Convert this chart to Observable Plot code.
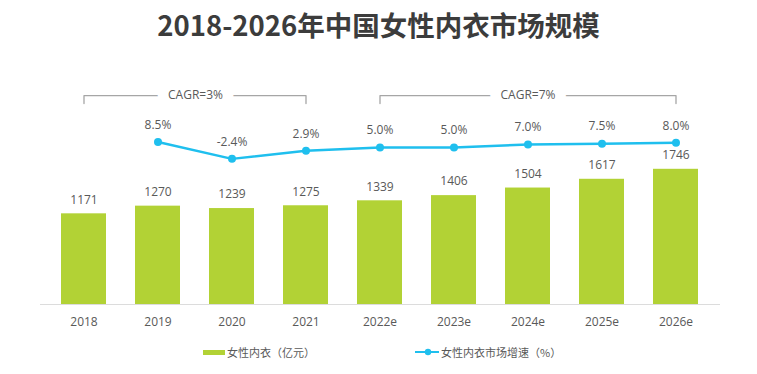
<!DOCTYPE html>
<html><head><meta charset="utf-8">
<script src="https://cdn.jsdelivr.net/npm/d3@7"></script>
<script src="https://cdn.jsdelivr.net/npm/@observablehq/plot@0.6"></script>
<style>
body{margin:0;background:#fff;font-family:"Open Sans","Noto Sans CJK SC",sans-serif;}
#wrap{position:relative;width:757px;height:374px;overflow:hidden;background:#fff;}
#title{height:50px;line-height:48px;text-align:center;font-family:"Noto Sans CJK SC",sans-serif;font-weight:700;font-size:27.5px;color:#3c3c3c;}
#chart{position:relative;width:757px;height:290px;}
#chart svg{position:absolute;left:0;top:0;}
#legend{position:relative;height:34px;font-size:11px;color:#595959;font-family:"Noto Sans CJK SC",sans-serif;}
.lg{position:absolute;top:5px;display:flex;align-items:center;height:14px;white-space:nowrap;}
</style></head>
<body>
<div id="wrap">
  <div id="title">2018-2026年中国女性内衣市场规模</div>
  <div id="chart"></div>
  <div id="legend"></div>
</div>
<script>
const years = ["2018","2019","2020","2021","2022e","2023e","2024e","2025e","2026e"];
const marketSize = [1171,1270,1239,1275,1339,1406,1504,1617,1746];
const growthYears = ["2019","2020","2021","2022e","2023e","2024e","2025e","2026e"];
const growthRate = [8.5,-2.4,2.9,5.0,5.0,7.0,7.5,8.0];
const cagrLabels = ["CAGR=3%","CAGR=7%"];
const cagrStart = ["2018","2022e"];
const cagrEnd = ["2021","2026e"];
const cagrCenter = ["2019","2024e"];
const legendLabels = ["女性内衣（亿元）","女性内衣市场增速（%）"];

const barColor = "#b2d235";
const lineColor = "#1fbfee";
const W = 757, H = 290, ML = 40, MR = 37, MB = 36;
const padIn = 0.387, padOut = 0.227;
const step = (W - ML - MR) / (years.length - padIn + 2 * padOut);

const sizeData = years.map((y, i) => ({year: y, value: marketSize[i]}));
const rateData = growthYears.map((y, i) => ({year: y, rate: growthRate[i]}));
const bracketTop = 38.7, bracketLow = 33.5;
const bracketData = [];
cagrLabels.forEach((lab, i) => {
  bracketData.push({g: i, year: cagrStart[i], v: bracketLow});
  bracketData.push({g: i, year: cagrStart[i], v: bracketTop});
  bracketData.push({g: i, year: cagrEnd[i], v: bracketTop});
  bracketData.push({g: i, year: cagrEnd[i], v: bracketLow});
});
const cagrText = cagrLabels.map((lab, i) => ({year: cagrCenter[i], v: bracketTop, label: lab, shift: i === 0 ? step / 2 : 0}));

const xOpts = {domain: years, type: "band", paddingInner: padIn, paddingOuter: padOut};
const font = {fontFamily: '"Open Sans","Noto Sans CJK SC",sans-serif', fontSize: "12px", color: "#595959", overflow: "visible"};

const bars = Plot.plot({
  width: W, height: H, marginLeft: ML, marginRight: MR, marginTop: 0, marginBottom: MB,
  style: {...font, background: "white"},
  x: {...xOpts, label: null, tickSize: 0, tickPadding: 13},
  y: {domain: [0, 3280], axis: null},
  marks: [
    Plot.barY(sizeData, {x: "year", y: "value", fill: barColor}),
    Plot.ruleY([0], {stroke: "#dcdcdc", strokeWidth: 1}),
    Plot.text(sizeData, {x: "year", y: "value", text: d => String(d.value), dy: -14, fill: "#595959", fontSize: 12})
  ]
});

const line = Plot.plot({
  width: W, height: H, marginLeft: ML, marginRight: MR, marginTop: 0, marginBottom: MB,
  style: {...font, background: "transparent"},
  x: {...xOpts, axis: null},
  y: {domain: [-97, 68], axis: null},
  marks: [
    Plot.line(bracketData, {x: "year", y: "v", z: "g", stroke: "#a6a6a6", strokeWidth: 1.3}),
    Plot.text(cagrText, {x: "year", y: "v", text: "label", fill: "#595959", fontSize: 12, stroke: "white", strokeWidth: 22, paintOrder: "stroke"}),
    Plot.line(rateData, {x: "year", y: "rate", stroke: lineColor, strokeWidth: 2.5}),
    Plot.dot(rateData, {x: "year", y: "rate", r: 4, fill: lineColor}),
    Plot.text(rateData, {x: "year", y: "rate", text: d => d.rate.toFixed(1) + "%", dy: -17, fill: "#595959", fontSize: 12})
  ]
});

document.getElementById("chart").append(bars, line);

// shift left CAGR label to the midpoint between 2019 and 2020 band centers
line.querySelectorAll("text").forEach(t => {
  if (t.textContent === cagrText[0].label) {
    t.setAttribute("transform", (t.getAttribute("transform") || "") + ` translate(${cagrText[0].shift},0)`);
  }
});

const legend = document.getElementById("legend");
legend.innerHTML = `
<div class="lg" style="left:203px"><span style="display:inline-block;width:22px;height:5px;background:${barColor};margin-right:2px"></span>${legendLabels[0]}</div>
<div class="lg" style="left:415px"><svg width="25" height="10" style="margin-right:1px"><line x1="0" y1="5" x2="24" y2="5" stroke="${lineColor}" stroke-width="2"/><circle cx="13" cy="5" r="3.2" fill="${lineColor}"/></svg>${legendLabels[1]}</div>`;
</script>
</body></html>
